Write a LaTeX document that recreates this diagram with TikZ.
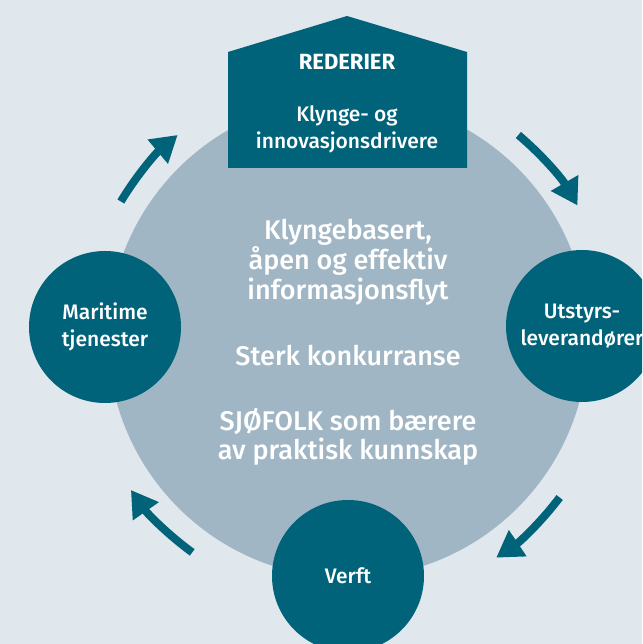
\documentclass[tikz,border=0pt]{standalone}
\usepackage{fontspec}
\setmainfont{Fira Sans}[UprightFont=* Medium, BoldFont=* Bold]
\usetikzlibrary{arrows.meta, positioning}
\definecolor{seablue}{RGB}{0,99,122}
\definecolor{hubgrey}{RGB}{160,182,196}
\definecolor{bggrey}{RGB}{224,231,237}
\tikzstyle{hub} = [circle, minimum size=480pt, inner sep=0pt, fill=hubgrey]
\tikzstyle{actor} = [circle, minimum size=152pt, inner sep=0pt, fill=seablue, text=white, align=center, font=\fontsize{21}{27}\selectfont]
\tikzstyle{hubtext} = [text=white, align=center, font=\fontsize{27}{30}\selectfont]
\tikzstyle{arrow} = [seablue, line width=8pt, -{Triangle[length=26pt,width=30pt]}]

\begin{document}
\begin{tikzpicture}[x=1pt, y=1pt]
\useasboundingbox (0,0) rectangle (642,644);
\clip (0,0) rectangle (642,644);
\fill[bggrey] (0,0) rectangle (642,644);

% Nodes
\node (hub) [hub] at (348,306) {};
\fill[seablue] (228,476) -- (228,592) -- (347,628) -- (467,592) -- (467,476) -- cycle;
\node (owners) [text=white, font=\fontsize{22}{27}\selectfont\bfseries] at (347,582) {REDERIER};
\node (drivers) [text=white, align=center, font=\fontsize{21}{27}\selectfont] at (347,515) {Klynge- og\\innovasjonsdrivere};
\node (services) [actor] at (105,317) {Maritime\\tjenester};
\node (suppliers) [actor] at (582,318) {Utstyrs-\\leverandører};
\node (yard) [actor] at (348,68) {Verft};
\node (flow) [hubtext] at (348,382) {Klyngebasert,\\åpen og effektiv\\informasjonsflyt};
\node (competition) [hubtext] at (348,288) {Sterk konkurranse};
\node (seafarers) [hubtext, font=\fontsize{27}{29}\selectfont] at (348,207) {SJØFOLK som bærere\\av praktisk kunnskap};

% Arrows
\draw [arrow] (hub.center) ++(149:265) arc[start angle=149, end angle=130, radius=265];
\draw [arrow] (hub.center) ++(50:265) arc[start angle=50, end angle=30, radius=265];
\draw [arrow] (hub.center) ++(-37:265) arc[start angle=-37, end angle=-56, radius=265];
\draw [arrow] (hub.center) ++(-126:265) arc[start angle=-126, end angle=-145, radius=265];

\end{tikzpicture}
\end{document}
